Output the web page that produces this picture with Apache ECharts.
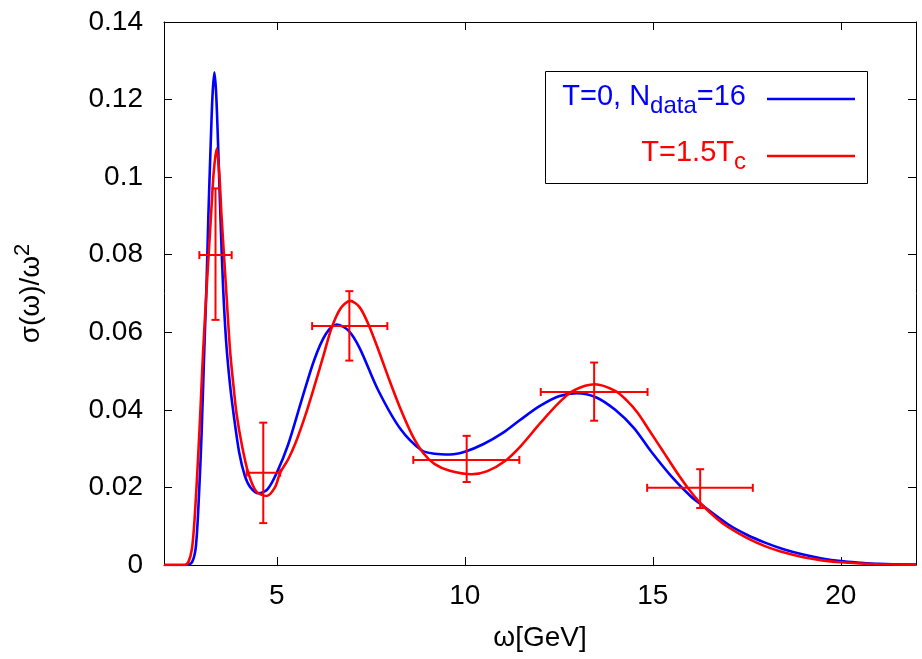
<!DOCTYPE html>
<html><head><meta charset="utf-8">
<script src="https://cdn.jsdelivr.net/npm/echarts@6/dist/echarts.min.js"></script>
<style>html,body{margin:0;padding:0;background:#fff}#c{width:922px;height:659px}</style>
</head><body><div id="c"></div>
<script>
// ---- data ----
const xTicks = [5, 10, 15, 20];
const yTicks = [0, 0.02, 0.04, 0.06, 0.08, 0.1, 0.12, 0.14];
const yTickLabels = ['0', '0.02', '0.04', '0.06', '0.08', '0.1', '0.12', '0.14'];

// T=0, N_data=16 (blue)
const blueX = [2, 2.6, 2.75, 2.85, 2.94, 3.0, 3.07, 3.13, 3.18, 3.24, 3.29, 3.34, 3.39, 3.45, 3.5, 3.57, 3.65, 3.75, 3.85, 4.0, 4.15, 4.3, 4.51, 4.75, 5.0, 5.3, 5.66, 6.0, 6.3, 6.59, 6.9, 7.2, 7.7, 8.28, 8.85, 9.2, 9.61, 10.0, 10.5, 11.0, 11.47, 12.0, 12.5, 12.98, 13.5, 14.0, 14.5, 14.93, 15.5, 16.0, 16.3, 17.0, 17.5, 18.0, 18.5, 19.0, 19.5, 20.0, 20.5, 21.0, 22.0];
const blueY = [0, 0, 0.0008, 0.005, 0.02, 0.034, 0.055, 0.072, 0.09, 0.108, 0.121, 0.127, 0.121, 0.105, 0.09, 0.072, 0.058, 0.047, 0.039, 0.029, 0.023, 0.02, 0.0185, 0.0195, 0.0238, 0.031, 0.0425, 0.053, 0.0595, 0.062, 0.0605, 0.056, 0.045, 0.0352, 0.0296, 0.0287, 0.0285, 0.0292, 0.0312, 0.034, 0.0374, 0.041, 0.0435, 0.0443, 0.0432, 0.04, 0.0353, 0.0296, 0.0228, 0.0178, 0.0155, 0.0105, 0.0078, 0.0057, 0.004, 0.0027, 0.0017, 0.001, 0.0006, 0.0003, 0.0001];

// T=1.5Tc (red)
const redX = [2, 2.55, 2.65, 2.74, 2.8, 2.87, 2.96, 3.04, 3.15, 3.25, 3.32, 3.4, 3.47, 3.53, 3.64, 3.76, 3.85, 3.93, 4.07, 4.24, 4.45, 4.73, 4.95, 5.09, 5.3, 5.5, 5.75, 6.0, 6.25, 6.46, 6.7, 6.95, 7.2, 7.43, 7.7, 8.0, 8.3, 8.6, 8.9, 9.2, 9.6, 10.19, 10.6, 11.07, 11.5, 12.0, 12.5, 12.9, 13.46, 14.0, 14.3, 14.6, 14.9, 15.28, 15.7, 16.0, 16.3, 16.7, 17.0, 17.5, 18.0, 18.5, 19.0, 19.5, 20.0, 20.5, 21.0, 22.0];
const redY = [0, 0, 0.0008, 0.004, 0.01, 0.021, 0.038, 0.055, 0.074, 0.09, 0.101, 0.1074, 0.101, 0.09, 0.073, 0.055, 0.046, 0.039, 0.031, 0.0238, 0.019, 0.0178, 0.02, 0.0238, 0.0272, 0.0315, 0.0383, 0.0461, 0.0543, 0.0612, 0.0662, 0.0681, 0.0665, 0.0622, 0.0555, 0.0475, 0.040, 0.0335, 0.0288, 0.026, 0.0243, 0.0234, 0.0242, 0.0268, 0.0308, 0.0365, 0.0418, 0.045, 0.0466, 0.0449, 0.0425, 0.0392, 0.0348, 0.0292, 0.023, 0.019, 0.0156, 0.012, 0.0098, 0.007, 0.0048, 0.0032, 0.002, 0.0012, 0.0007, 0.0004, 0.0002, 0.00005];

// error-bar points (red)
const errX = [3.37, 4.64, 6.93, 10.05, 13.44, 16.26];
const errY = [0.0799, 0.0238, 0.0616, 0.0271, 0.0446, 0.0199];
const errXLow = [2.94, 4.20, 5.94, 8.63, 12.02, 14.85];
const errXHigh = [3.80, 5.09, 7.94, 11.45, 14.86, 17.66];
const errYLow = [0.0632, 0.0108, 0.0527, 0.0214, 0.0372, 0.0147];
const errYHigh = [0.0971, 0.0367, 0.0706, 0.0333, 0.0522, 0.0247];

// ---- chart ----
const FONT = 'Liberation Sans';
const FS = 28;
const chart = echarts.init(document.getElementById('c'), null, {renderer: 'canvas'});
const zip = (a, b) => a.map((v, i) => [v, b[i]]);
const errData = errX.map((v, i) => [v, errY[i], errXLow[i], errXHigh[i], errYLow[i], errYHigh[i]]);

const baseX = {
  type: 'value', min: 2, max: 22,
  axisLine: {show: true, onZero: false, lineStyle: {color: '#000', width: 1}},
  axisTick: {show: true, inside: true, length: 8, lineStyle: {color: '#000'}, customValues: xTicks},
  splitLine: {show: false}
};
const baseY = {
  type: 'value', min: 0, max: 0.14,
  axisLine: {show: true, onZero: false, lineStyle: {color: '#000', width: 1}},
  axisTick: {show: true, inside: true, length: 8, lineStyle: {color: '#000'}, customValues: yTicks},
  splitLine: {show: false}
};

chart.setOption({
  animation: false,
  backgroundColor: '#fff',
  textStyle: {fontFamily: FONT},
  grid: {left: 164, right: 6, top: 22, bottom: 94, containLabel: false},
  xAxis: [
    Object.assign({}, baseX, {
      position: 'bottom',
      axisLabel: {show: true, customValues: xTicks, fontSize: FS, color: '#000', fontFamily: FONT, margin: 17},
      name: 'ω[GeV]', nameLocation: 'middle', nameGap: 59,
      nameTextStyle: {fontSize: FS, color: '#000', fontFamily: FONT}
    }),
    Object.assign({}, baseX, {position: 'top', axisLabel: {show: false}})
  ],
  yAxis: [
    Object.assign({}, baseY, {
      position: 'left',
      axisLabel: {show: true, customValues: yTicks, fontSize: FS, color: '#000', fontFamily: FONT, margin: 21,
        formatter: v => { const i = yTicks.findIndex(t => Math.abs(t - v) < 1e-9); return i >= 0 ? yTickLabels[i] : ''; }},
      name: '{a|σ(ω)/ω}{s|2}', nameLocation: 'middle', nameGap: 114, nameRotate: 90,
      nameTextStyle: {color: '#000', fontFamily: FONT, rich: {
        a: {fontSize: FS, color: '#000', fontFamily: FONT},
        s: {fontSize: 22, color: '#000', fontFamily: FONT, padding: [0, 0, 16, 0]}
      }}
    }),
    Object.assign({}, baseY, {position: 'right', axisLabel: {show: false}})
  ],
  series: [
    {
      name: 'T=0', type: 'line', data: zip(blueX, blueY), showSymbol: false,
      smooth: 0.3,
      lineStyle: {color: '#0000ff', width: 2.6}, itemStyle: {color: '#0000ff'}, z: 2
    },
    {
      name: 'T=1.5Tc', type: 'line', data: zip(redX, redY), showSymbol: false,
      smooth: 0.3,
      lineStyle: {color: '#ff0000', width: 2.6}, itemStyle: {color: '#ff0000'}, z: 3
    },
    {
      type: 'custom', data: errData, z: 4,
      renderItem: function (params, api) {
        const x = api.value(0), y = api.value(1);
        const pL = api.coord([api.value(2), y]);
        const pR = api.coord([api.value(3), y]);
        const pB = api.coord([x, api.value(4)]);
        const pT = api.coord([x, api.value(5)]);
        const cap = 4;
        const st = {stroke: '#ff0000', lineWidth: 2};
        const ln = (x1, y1, x2, y2) => ({type: 'line', shape: {x1, y1, x2, y2}, style: st});
        return {type: 'group', children: [
          ln(pL[0], pL[1], pR[0], pR[1]),
          ln(pL[0], pL[1] - cap, pL[0], pL[1] + cap),
          ln(pR[0], pR[1] - cap, pR[0], pR[1] + cap),
          ln(pB[0], pB[1], pT[0], pT[1]),
          ln(pB[0] - cap, pB[1], pB[0] + cap, pB[1]),
          ln(pT[0] - cap, pT[1], pT[0] + cap, pT[1])
        ]};
      }
    }
  ],
  graphic: [
    {type: 'rect', shape: {x: 545.5, y: 71.5, width: 322, height: 112}, style: {fill: '#fff', stroke: '#000', lineWidth: 1}, z: 10},
    {type: 'line', shape: {x1: 767, y1: 99, x2: 855, y2: 99}, style: {stroke: '#0000ff', lineWidth: 2.6}, z: 11},
    {type: 'line', shape: {x1: 767, y1: 156, x2: 855, y2: 156}, style: {stroke: '#ff0000', lineWidth: 2.6}, z: 11},
    {type: 'text', z: 11, style: {
      text: '{a|T=0, N}{s|data}{a|=16}', x: 746, y: 97, align: 'right', verticalAlign: 'middle',
      rich: {
        a: {fontSize: 29, fill: '#0000ff', fontFamily: FONT},
        s: {fontSize: 24, fill: '#0000ff', fontFamily: FONT, padding: [18, 0, 0, 0]}
      }
    }},
    {type: 'text', z: 11, style: {
      text: '{a|T=1.5T}{s|c}', x: 746, y: 153, align: 'right', verticalAlign: 'middle',
      rich: {
        a: {fontSize: 29, fill: '#ff0000', fontFamily: FONT},
        s: {fontSize: 24, fill: '#ff0000', fontFamily: FONT, padding: [18, 0, 0, 0]}
      }
    }}
  ]
});
</script>
</body></html>
